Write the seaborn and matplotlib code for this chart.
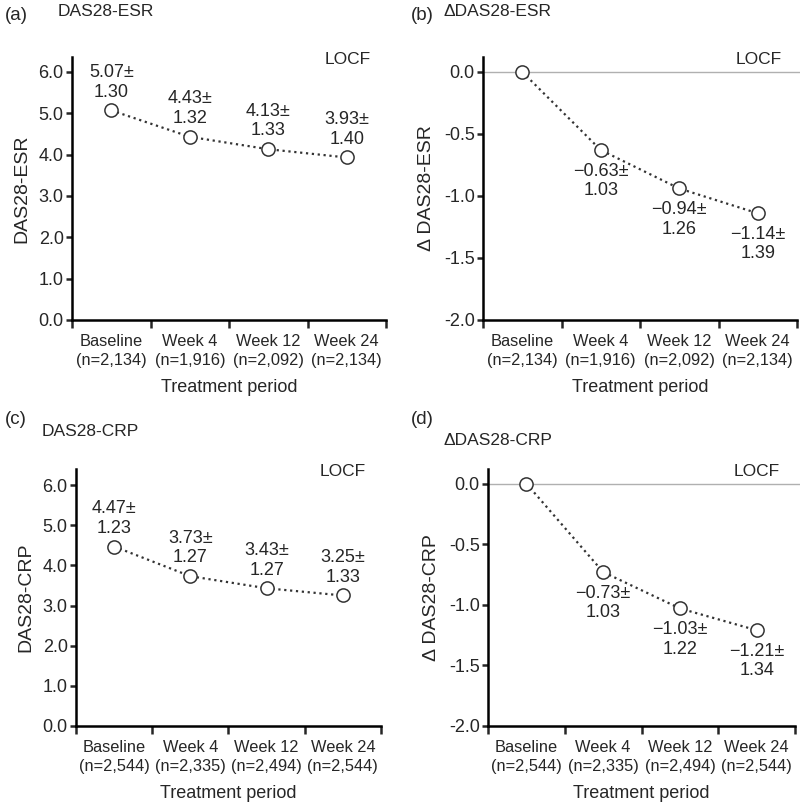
import numpy as np
import pandas as pd
import seaborn as sns
import matplotlib.pyplot as plt

# data
timepoints = ["Baseline", "Week 4", "Week 12", "Week 24"]
n_esr = ["2,134", "1,916", "2,092", "2,134"]
n_crp = ["2,544", "2,335", "2,494", "2,544"]

esr_mean = [5.07, 4.43, 4.13, 3.93]
esr_sd = [1.30, 1.32, 1.33, 1.40]
d_esr_mean = [0.0, -0.63, -0.94, -1.14]
d_esr_sd = [None, 1.03, 1.26, 1.39]

crp_mean = [4.47, 3.73, 3.43, 3.25]
crp_sd = [1.23, 1.27, 1.27, 1.33]
d_crp_mean = [0.0, -0.73, -1.03, -1.21]
d_crp_sd = [None, 1.03, 1.22, 1.34]

sns.set_style("ticks")
plt.rcParams["font.family"] = ["Liberation Sans", "DejaVu Sans"]
plt.rcParams["axes.unicode_minus"] = False

fig = plt.figure(figsize=(8, 8.07), dpi=100)

W, H = 800, 807


def add_axes_px(x0, x1, ytop, ybot):
    return fig.add_axes([x0 / W, 1 - ybot / H, (x1 - x0) / W, (ybot - ytop) / H])


def draw_panel(ax, means, sds, ns, ylim, yticks, ylabel, delta):
    df = pd.DataFrame({"pos": np.arange(len(means)), "value": means})
    sns.lineplot(
        data=df, x="pos", y="value", ax=ax,
        color="#333333", linestyle=":", linewidth=1.6,
        marker="o", markersize=9.5, markerfacecolor="white",
        markeredgecolor="#333333", markeredgewidth=1.1,
    )
    if delta:
        ax.axhline(0, color="#b0b0b0", linewidth=1.0, zorder=0, clip_on=False,
                   xmin=0, xmax=1.02)
    for i, (m, s) in enumerate(zip(means, sds)):
        if s is None:
            continue
        mtxt = f"{m:.2f}".replace("-", "\u2212")
        txt = f"{mtxt}\u00b1\n{s:.2f}"
        if delta:
            ax.annotate(txt, (i, m), xytext=(0, -9), textcoords="offset points",
                        ha="center", va="top", fontsize=13, linespacing=1.2)
        else:
            ax.annotate(txt, (i, m), xytext=(0, 7), textcoords="offset points",
                        ha="center", va="bottom", fontsize=13, linespacing=1.2)

    ax.set_xlim(-0.5, len(means) - 0.5)
    ax.set_ylim(*ylim)
    ax.set_yticks(yticks)
    ax.set_yticklabels([f"{t:.1f}" for t in yticks], fontsize=13)
    ax.set_xticks(np.arange(len(means) + 1) - 0.5)
    ax.set_xticklabels([])
    ax.set_xticks(np.arange(len(means)), minor=True)
    ax.set_xticklabels([f"{t}\n(n={n})" for t, n in zip(timepoints, ns)],
                       minor=True, fontsize=11.8, linespacing=1.35)
    ax.tick_params(axis="x", which="minor", length=0, pad=10)
    ax.tick_params(axis="x", which="major", length=6, width=1.8, direction="out")
    ax.tick_params(axis="y", length=4, width=1.8, direction="out", pad=2)
    ax.set_xlabel("Treatment period", fontsize=13, labelpad=8)
    ax.set_ylabel(ylabel, fontsize=14, labelpad=6)
    for side in ["top", "right"]:
        ax.spines[side].set_visible(False)
    for side in ["left", "bottom"]:
        ax.spines[side].set_linewidth(1.8)
        ax.spines[side].set_color("black")
    ax.text(0.95, 1.02, "LOCF", transform=ax.transAxes, ha="right", va="top",
            fontsize=12.5)


ax_a = add_axes_px(72, 386, 57, 320)
ax_b = add_axes_px(483, 797, 57, 320)
ax_c = add_axes_px(76, 381, 469, 726)
ax_d = add_axes_px(488, 795, 469, 726)

draw_panel(ax_a, esr_mean, esr_sd, n_esr, (0, 6.36),
           [0, 1, 2, 3, 4, 5, 6], "DAS28-ESR", False)
draw_panel(ax_b, d_esr_mean, d_esr_sd, n_esr, (-2, 0.12),
           [-2.0, -1.5, -1.0, -0.5, 0.0], "\u0394 DAS28-ESR", True)
draw_panel(ax_c, crp_mean, crp_sd, n_crp, (0, 6.4),
           [0, 1, 2, 3, 4, 5, 6], "DAS28-CRP", False)
draw_panel(ax_d, d_crp_mean, d_crp_sd, n_crp, (-2, 0.12),
           [-2.0, -1.5, -1.0, -0.5, 0.0], "\u0394 DAS28-CRP", True)

# panel letters and titles
fig.text(5 / W, 1 - 15 / H, "(a)", fontsize=13.5, va="center", ha="left")
fig.text(58 / W, 1 - 12 / H, "DAS28-ESR", fontsize=12.5, va="center", ha="left")
fig.text(411 / W, 1 - 15 / H, "(b)", fontsize=13.5, va="center", ha="left")
fig.text(443 / W, 1 - 12 / H, "\u0394DAS28-ESR", fontsize=12.5, va="center", ha="left")
fig.text(5 / W, 1 - 420 / H, "(c)", fontsize=13.5, va="center", ha="left")
fig.text(42 / W, 1 - 431 / H, "DAS28-CRP", fontsize=12.5, va="center", ha="left")
fig.text(411 / W, 1 - 420 / H, "(d)", fontsize=13.5, va="center", ha="left")
fig.text(443 / W, 1 - 440 / H, "\u0394DAS28-CRP", fontsize=12.5, va="center", ha="left")

fig.savefig("out.png", dpi=100, facecolor="white")
